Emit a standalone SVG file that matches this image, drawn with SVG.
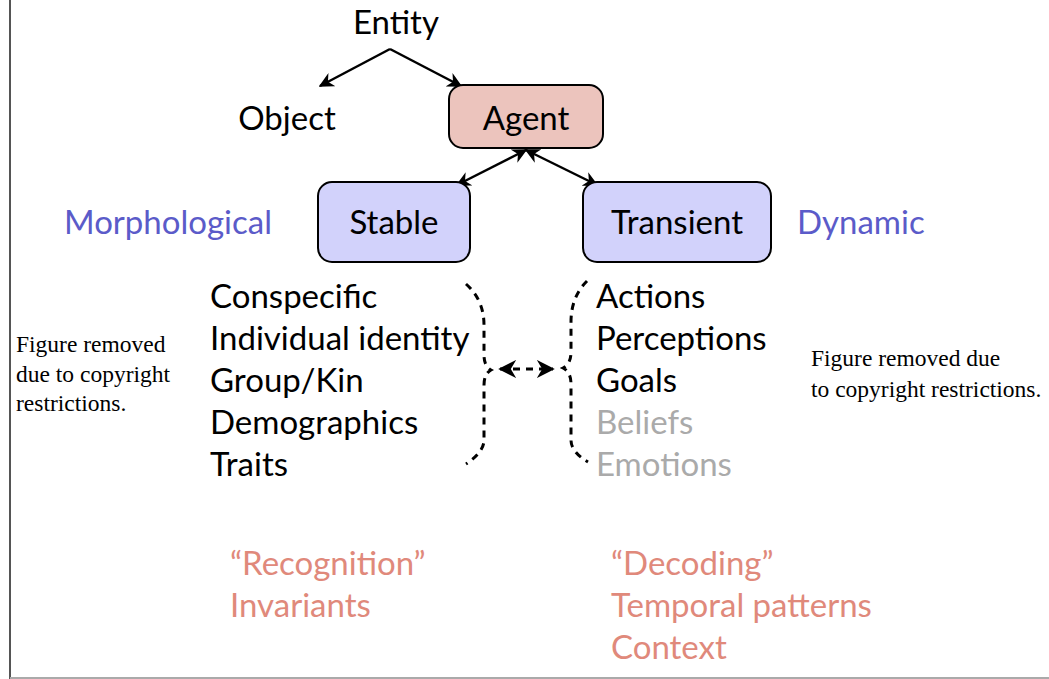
<svg xmlns="http://www.w3.org/2000/svg" width="1049" height="679" viewBox="0 0 1049 679">
<defs>
<style>
.t{font-family:"Lato","Open Sans","Liberation Sans",sans-serif;font-size:33px;fill:#000}
.blue{fill:#5b5bc9}
.gray{fill:#aaaaaa}
.red{fill:#e0897b}
.note{font-family:"Liberation Serif","Times New Roman",serif;font-size:23.5px;fill:#000}
.box{stroke:#000;stroke-width:2}
.ln{stroke:#000;stroke-width:2.5;fill:none}
.dash{stroke:#000;stroke-width:3;fill:none;stroke-dasharray:7 6}
</style>
<marker id="ah" viewBox="0 0 10 10" refX="9" refY="5" markerWidth="6" markerHeight="6" orient="auto-start-reverse" markerUnits="strokeWidth">
<path d="M0,0 L10,5 L0,10 L3,5 z" fill="#000"/>
</marker>
</defs>
<rect x="0" y="0" width="1049" height="679" fill="#fff"/>
<line x1="10" y1="0" x2="10" y2="679" stroke="#555" stroke-width="2"/>
<line x1="10" y1="678" x2="1049" y2="678" stroke="#aaa" stroke-width="2"/>

<g id="connectors">
<path class="ln" d="M390,49 L320,86" marker-end="url(#ah)"/>
<path class="ln" d="M390,49 L461,86" marker-end="url(#ah)"/>
<path class="ln" d="M526,150 L457,185" marker-start="url(#ah)" marker-end="url(#ah)"/>
<path class="ln" d="M526,150 L597,185" marker-start="url(#ah)" marker-end="url(#ah)"/>
<path class="dash" d="M466,284 Q484,300 484,325 L484,355 Q484,366 491,370 Q484,374 484,385 L484,440 Q484,452 466,464"/>
<path class="dash" d="M587,281 Q571,297 571,322 L571,352 Q571,364 563,368 Q571,372 571,384 L571,440 Q571,452 588,462"/>
<path class="ln" style="stroke-width:3;stroke-dasharray:7 6" d="M500,369 L553,369" marker-start="url(#ah)" marker-end="url(#ah)"/>
</g>

<g id="entity"><text class="t" x="396" y="34" text-anchor="middle">Entity</text></g>
<g id="object"><text class="t" x="287" y="130" text-anchor="middle">Object</text></g>
<g id="agent">
<rect class="box" x="449" y="85" width="154" height="63" rx="14" fill="#ecc4bd"/>
<text class="t" x="526" y="130" text-anchor="middle">Agent</text>
</g>
<g id="stable">
<rect class="box" x="318" y="182" width="152" height="80" rx="14" fill="#d2d2fb"/>
<text class="t" x="394" y="234" text-anchor="middle">Stable</text>
</g>
<g id="transient">
<rect class="box" x="583" y="182" width="188" height="80" rx="14" fill="#d2d2fb"/>
<text class="t" x="677" y="234" text-anchor="middle">Transient</text>
</g>
<g id="morphological"><text class="t blue" x="64" y="234">Morphological</text></g>
<g id="dynamic"><text class="t blue" x="797" y="234">Dynamic</text></g>

<g id="stable-list">
<text class="t" x="210" y="308">Conspecific</text>
<text class="t" x="210" y="350">Individual identity</text>
<text class="t" x="210" y="392">Group/Kin</text>
<text class="t" x="210" y="434">Demographics</text>
<text class="t" x="210" y="476">Traits</text>
</g>
<g id="transient-list">
<text class="t" x="596" y="308">Actions</text>
<text class="t" x="596" y="350">Perceptions</text>
<text class="t" x="596" y="392">Goals</text>
<text class="t gray" x="596" y="434">Beliefs</text>
<text class="t gray" x="596" y="476">Emotions</text>
</g>
<g id="recognition">
<text class="t red" x="230" y="575">“Recognition”</text>
<text class="t red" x="230" y="617">Invariants</text>
</g>
<g id="decoding">
<text class="t red" x="611" y="575">“Decoding”</text>
<text class="t red" x="611" y="617">Temporal patterns</text>
<text class="t red" x="611" y="659">Context</text>
</g>
<g id="note-left">
<text class="note" x="16" y="352">Figure removed</text>
<text class="note" x="16" y="382">due to copyright</text>
<text class="note" x="16" y="411">restrictions.</text>
</g>
<g id="note-right">
<text class="note" x="811" y="366">Figure removed due</text>
<text class="note" x="811" y="397">to copyright restrictions.</text>
</g>
</svg>
